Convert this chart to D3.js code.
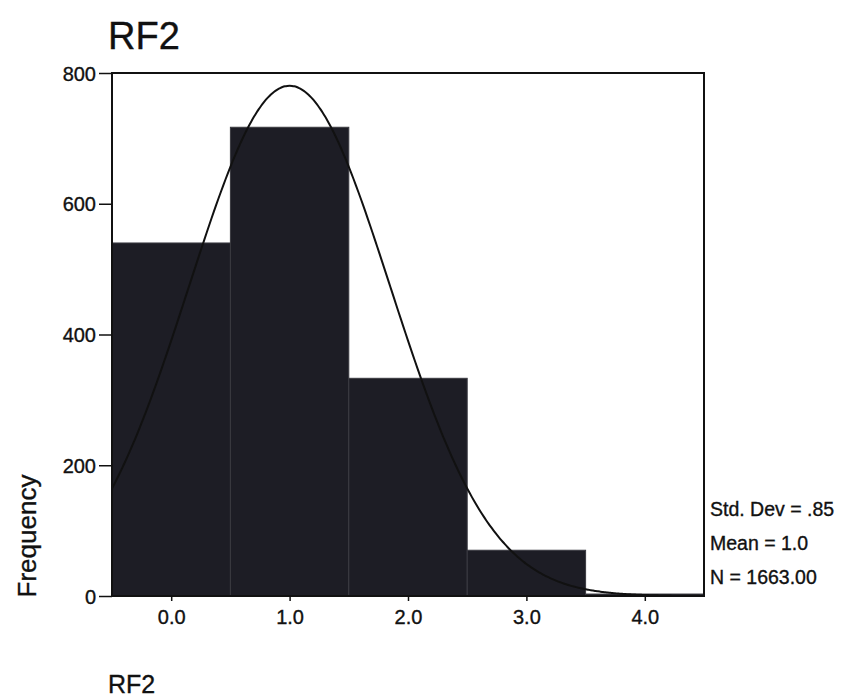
<!DOCTYPE html>
<html>
<head>
<meta charset="utf-8">
<script src="https://cdn.jsdelivr.net/npm/d3@7/dist/d3.min.js"></script>
<style>
  html, body { margin: 0; padding: 0; background: #fff; }
  svg { display: block; font-family: "Liberation Sans", Arial, sans-serif; }
  .lbl { fill: #111; stroke: #111; stroke-width: 0.35px; }
</style>
</head>
<body>
<svg id="chart" width="853" height="700"></svg>
<script>
// Histogram of RF2 with fitted normal curve
const binCenters = [0, 1, 2, 3, 4];
const frequencies = [540, 717, 333, 70, 3];
const yTicks = [0, 200, 400, 600, 800];
const xTickLabels = ["0.0", "1.0", "2.0", "3.0", "4.0"];
const stats = { sd: 0.85, mean: 1.0, n: 1663 };
const statLabels = ["Std. Dev = .85", "Mean = 1.0", "N = 1663.00"];
const binWidth = 1;

const FONT = "'Liberation Sans', Arial, sans-serif";
const svg = d3.select("#chart");
const m = { left: 112, right: 704, top: 73, bottom: 596 };

const x = d3.scaleLinear().domain([-0.5, 4.5]).range([m.left, m.right]);
const y = d3.scaleLinear().domain([0, 800]).range([m.bottom, m.top]);

// Bars
svg.append("g").selectAll("rect")
  .data(binCenters)
  .join("rect")
  .attr("x", (d) => x(d - binWidth / 2))
  .attr("width", (d) => x(d + binWidth / 2) - x(d - binWidth / 2))
  .attr("y", (d, i) => y(frequencies[i]))
  .attr("height", (d, i) => y(0) - y(frequencies[i]))
  .attr("fill", "#1d1d25")
  .attr("stroke", "#3a3a40")
  .attr("stroke-width", 1);

// Normal curve scaled to counts
const normal = (v) => stats.n * binWidth / (stats.sd * Math.sqrt(2 * Math.PI)) *
  Math.exp(-0.5 * Math.pow((v - stats.mean) / stats.sd, 2));
const curvePts = d3.range(-0.5, 4.5001, 0.02).map((v) => [v, normal(v)]);
svg.append("path")
  .datum(curvePts)
  .attr("fill", "none")
  .attr("stroke", "#111")
  .attr("stroke-width", 2)
  .attr("d", d3.line().x((d) => x(d[0])).y((d) => y(d[1])).curve(d3.curveBasis));

// Frame
svg.append("rect")
  .attr("x", m.left).attr("y", m.top)
  .attr("width", m.right - m.left).attr("height", m.bottom - m.top)
  .attr("fill", "none").attr("stroke", "#111").attr("stroke-width", 2);

// Y axis
const yAxis = svg.append("g")
  .attr("transform", `translate(${m.left},0)`)
  .call(d3.axisLeft(y).tickValues(yTicks).tickSize(13).tickPadding(3).tickFormat(d3.format("d")));
yAxis.attr("font-family", FONT).attr("font-size", 20);
yAxis.select(".domain").remove();
yAxis.selectAll("line").attr("stroke", "#111").attr("stroke-width", 1.5);
yAxis.selectAll("text").attr("class", "lbl").attr("dy", "0.36em");

// X axis
const xAxis = svg.append("g")
  .attr("transform", `translate(0,${m.bottom})`)
  .call(d3.axisBottom(x).tickValues(binCenters).tickSize(5).tickPadding(9)
    .tickFormat((d, i) => xTickLabels[i]));
xAxis.attr("font-family", FONT).attr("font-size", 20);
xAxis.select(".domain").remove();
xAxis.selectAll("line").attr("stroke", "#111").attr("stroke-width", 1.5);
xAxis.selectAll("text").attr("class", "lbl");

// Title
svg.append("text").attr("class", "lbl").attr("x", 108).attr("y", 49)
  .attr("font-size", 38).text("RF2");

// Axis titles
svg.append("text").attr("class", "lbl")
  .attr("transform", "translate(36,536) rotate(-90)")
  .attr("text-anchor", "middle")
  .attr("font-size", 26).text("Frequency");
svg.append("text").attr("class", "lbl").attr("x", 108).attr("y", 693)
  .attr("font-size", 25).text("RF2");

// Summary statistics
svg.append("g").selectAll("text")
  .data(statLabels)
  .join("text")
  .attr("class", "lbl")
  .attr("x", 710)
  .attr("y", (d, i) => 516 + i * 34)
  .attr("font-size", 19.5)
  .text((d) => d);
</script>
</body>
</html>
